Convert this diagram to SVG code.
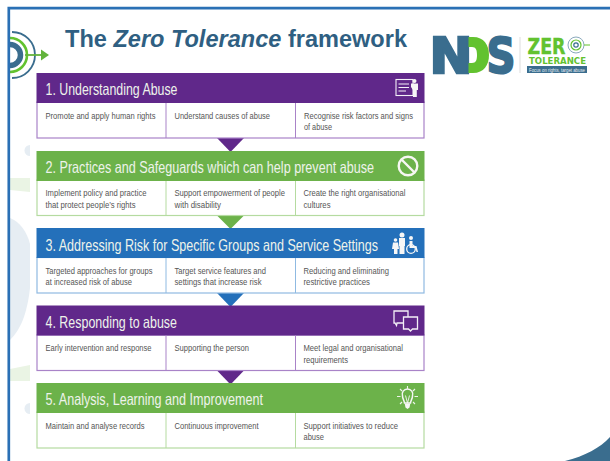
<svg xmlns="http://www.w3.org/2000/svg" width="610" height="461" viewBox="0 0 610 461">
<style>
text{font-family:"Liberation Sans",Arial,sans-serif}
.h{font-size:16.500px;fill:#eef3ea}
.t{font-size:9.300px;fill:#555}
.p{fill:#60288a}.g{fill:#6cb24a}.b{fill:#2470ba}
.lp{fill:#fff;stroke:#a983c8;stroke-width:1.2}
.lg{fill:#fff;stroke:#b5dba0;stroke-width:1.2}
.lb{fill:#fff;stroke:#8fbae2;stroke-width:1.2}
.dp{stroke:#a983c8;stroke-width:1}.dg{stroke:#b5dba0;stroke-width:1}.db{stroke:#8fbae2;stroke-width:1}
.ic{fill:none;stroke:#f3f0f7;stroke-width:1.1}
.w{fill:#f6f6f6}
.lg1{font-family:"DejaVu Sans",sans-serif;font-weight:700}
</style>
<rect width="610" height="461" fill="#fff"/>
<g id="background">
<path d="M10 218C20 222 27 232 30 244V288C27 315 20 330 10 340Z" fill="#e6edf3"/>
<path d="M10 178H30V192L10 190Z" fill="#eaf4e4"/>
<path d="M10 369L30 365V381H10Z" fill="#eaf4e4"/>
<path d="M30 145A5.500 5.500 0 0 0 30 156Z" fill="#e6edf3"/>
<path d="M30 403A5.500 5.500 0 0 0 30 414Z" fill="#e6edf3"/>
<path d="M565 461C585 456 600 448 610 437V461Z" fill="#3a6d8e"/>
</g>
<g id="ring-icon" fill="none">
<path d="M12 32A23 23 0 0 1 12 78" stroke="#3a6d8e" stroke-width="1.800"/>
<path d="M10 38A17 17 0 0 1 10 72" stroke="#62c22f" stroke-width="2.600"/>
<path d="M10 44.500A10.500 10.500 0 0 1 10 65.500" stroke="#3a6d8e" stroke-width="5.500"/>
<path d="M25 55H42" stroke="#62b33c" stroke-width="1.800"/>
<path d="M41 49.500L49 55L41 60.500Z" fill="#62b33c"/>
</g>
<g id="frame" fill="none" stroke="#2a70b5">
<path d="M610 8.200H8.800V461" stroke-width="2.700"/>
</g>
<text id="title" x="65" y="46.500" font-size="23.500" font-weight="700" fill="#2f5f82" textLength="342" lengthAdjust="spacingAndGlyphs">The <tspan font-style="italic">Zero Tolerance</tspan> framework</text>
<g id="logo">
<text class="lg1" x="429.500" y="72.500" font-size="49" fill="#3a6d8e" stroke="#3a6d8e" stroke-width="2.500" textLength="43" lengthAdjust="spacingAndGlyphs">N</text>
<text class="lg1" x="486.500" y="72.500" font-size="49" fill="#3a6d8e" stroke="#3a6d8e" stroke-width="2" textLength="29" lengthAdjust="spacingAndGlyphs">S</text>
<path d="M468.500 37H473C484 37 489 45 489 55C489 65 484 73 473 73H468.500V63H472C476 63 477 60 477 55C477 50 476 47 472 47H468.500Z" fill="#62c22f"/>
<path d="M520 37V73" stroke="#ddd" stroke-width="1"/>
<text class="lg1" x="527.500" y="53.500" font-size="22" fill="#62c22f" stroke="#62c22f" stroke-width=".4" textLength="38" lengthAdjust="spacingAndGlyphs">ZER</text>
<g fill="none">
<circle cx="576" cy="45" r="8" stroke="#8aa9bc" stroke-width="1"/>
<circle cx="576" cy="45" r="5" stroke="#62c22f" stroke-width="1.200"/>
<circle cx="576" cy="45" r="2.200" stroke="#3a6d8e" stroke-width="1.200"/>
<path d="M584 45H590" stroke="#62c22f"/>
</g>
<text class="lg1" x="529" y="63.500" font-size="8.500" fill="#62c22f" textLength="57" lengthAdjust="spacingAndGlyphs">TOLERANCE</text>
<rect x="527" y="66" width="60" height="7" fill="#3a6d8e"/>
<text x="529" y="71.500" font-size="5" fill="#e8eef2" textLength="56" lengthAdjust="spacingAndGlyphs">Focus on rights, target abuse</text>
</g>
<g id="connectors">
<path class="p" d="M217 138H244L230.500 152Z"/>
<path class="g" d="M217 215.500H244L230.500 229Z"/>
<path class="b" d="M217 293H244L230.500 307Z"/>
<path class="p" d="M217 370.500H244L230.500 384.500Z"/>
</g>
<g id="node-1">
<rect class="lp" x="37" y="102" width="387" height="36"/>
<rect class="p" x="36.500" y="73" width="388" height="30"/>
<path class="dp" d="M166 103V138M295.500 103V138"/>
<text class="h" x="45.500" y="94.500" textLength="132" lengthAdjust="spacingAndGlyphs">1. Understanding Abuse</text>
<text class="t" x="45.500" y="118.500" textLength="110" lengthAdjust="spacingAndGlyphs">Promote and apply human rights</text>
<text class="t" x="174.500" y="118.500" textLength="95.500" lengthAdjust="spacingAndGlyphs">Understand causes of abuse</text>
<text class="t" x="304" y="118.500" textLength="109" lengthAdjust="spacingAndGlyphs">Recognise risk factors and signs</text>
<text class="t" x="304" y="130" textLength="28" lengthAdjust="spacingAndGlyphs">of abuse</text>
<g>
<rect class="ic" x="396" y="79.500" width="17" height="16"/>
<path class="ic" d="M398.500 84H409M398.500 87.500H409M398.500 91H406"/>
<circle class="w" cx="414.500" cy="81" r="2"/>
<path class="w" d="M411 83.500H418V90H416.800V97H413V90L411 87Z"/>
</g>
</g>
<g id="node-2">
<rect class="lg" x="37" y="180" width="387" height="35.500"/>
<rect class="g" x="36.500" y="151" width="388" height="30"/>
<path class="dg" d="M166 181V215.500M295.500 181V215.500"/>
<text class="h" x="45.500" y="172.500" textLength="328.500" lengthAdjust="spacingAndGlyphs">2. Practices and Safeguards which can help prevent abuse</text>
<text class="t" x="45.500" y="196" textLength="101" lengthAdjust="spacingAndGlyphs">Implement policy and practice</text>
<text class="t" x="45.500" y="207.500" textLength="90" lengthAdjust="spacingAndGlyphs">that protect people’s rights</text>
<text class="t" x="174.500" y="196" textLength="110.500" lengthAdjust="spacingAndGlyphs">Support empowerment of people</text>
<text class="t" x="174.500" y="207.500" textLength="46.500" lengthAdjust="spacingAndGlyphs">with disability</text>
<text class="t" x="303.500" y="196" textLength="102" lengthAdjust="spacingAndGlyphs">Create the right organisational</text>
<text class="t" x="303.500" y="207.500" textLength="27" lengthAdjust="spacingAndGlyphs">cultures</text>
<g fill="none" stroke="#f7f7f3" stroke-width="2.400">
<circle cx="408" cy="166" r="9.300"/>
<path d="M401.500 159.500L414.500 172.500"/>
</g>
</g>
<g id="node-3">
<rect class="lb" x="37" y="257.500" width="387" height="35.500"/>
<rect class="b" x="36.500" y="228" width="388" height="30"/>
<path class="db" d="M166 258V293M295.500 258V293"/>
<text class="h" x="45.500" y="250.500" textLength="332.500" lengthAdjust="spacingAndGlyphs">3. Addressing Risk for Specific Groups and Service Settings</text>
<text class="t" x="45.500" y="273.500" textLength="107" lengthAdjust="spacingAndGlyphs">Targeted approaches for groups</text>
<text class="t" x="45.500" y="285" textLength="86.500" lengthAdjust="spacingAndGlyphs">at increased risk of abuse</text>
<text class="t" x="174.500" y="273.500" textLength="91.500" lengthAdjust="spacingAndGlyphs">Target service features and</text>
<text class="t" x="174.500" y="285" textLength="87" lengthAdjust="spacingAndGlyphs">settings that increase risk</text>
<text class="t" x="303.500" y="273.500" textLength="85.500" lengthAdjust="spacingAndGlyphs">Reducing and eliminating</text>
<text class="t" x="303.500" y="285" textLength="66.500" lengthAdjust="spacingAndGlyphs">restrictive practices</text>
<g>
<circle class="w" cx="395.500" cy="240" r="1.800"/>
<path class="w" d="M393 242.500H398L399 249H397.500V254H394V249H392Z"/>
<circle class="w" cx="402" cy="235" r="2.500"/>
<path class="w" d="M399 238H405V246H404.500V254H399.500V246H399Z"/>
<circle class="w" cx="411" cy="238" r="2"/>
<path class="w" d="M409.500 241H412.500V246H416.500L418 252H416.500L415.500 248H409.500Z"/>
<circle cx="411" cy="249" r="4.300" fill="none" stroke="#f6f6f6" stroke-width="1.300"/>
</g>
</g>
<g id="node-4">
<rect class="lp" x="37" y="335" width="387" height="35.500"/>
<rect class="p" x="36.500" y="305.500" width="388" height="30"/>
<path class="dp" d="M166 335.500V370.500M295.500 335.500V370.500"/>
<text class="h" x="45.500" y="327.500" textLength="131.500" lengthAdjust="spacingAndGlyphs">4. Responding to abuse</text>
<text class="t" x="45.500" y="351" textLength="106" lengthAdjust="spacingAndGlyphs">Early intervention and response</text>
<text class="t" x="174.500" y="351" textLength="74.500" lengthAdjust="spacingAndGlyphs">Supporting the person</text>
<text class="t" x="303.500" y="351" textLength="99.500" lengthAdjust="spacingAndGlyphs">Meet legal and organisational</text>
<text class="t" x="303.500" y="362.500" textLength="44.500" lengthAdjust="spacingAndGlyphs">requirements</text>
<g class="ic" style="stroke-width:1.300">
<path d="M403 323H397L396.500 325.500L395 323H394V311H408V317"/>
<path d="M403.500 317H417.500V329H412.500L410.500 331L408.500 329H403.500Z"/>
</g>
</g>
<g id="node-5">
<rect class="lg" x="37" y="412" width="387" height="36"/>
<rect class="g" x="36.500" y="383" width="388" height="30"/>
<path class="dg" d="M166 413V448M295.500 413V448"/>
<text class="h" x="45.500" y="405" textLength="217.500" lengthAdjust="spacingAndGlyphs">5. Analysis, Learning and Improvement</text>
<text class="t" x="45.500" y="428.500" textLength="99" lengthAdjust="spacingAndGlyphs">Maintain and analyse records</text>
<text class="t" x="174.500" y="428.500" textLength="84" lengthAdjust="spacingAndGlyphs">Continuous improvement</text>
<text class="t" x="303.500" y="428.500" textLength="94.500" lengthAdjust="spacingAndGlyphs">Support initiatives to reduce</text>
<text class="t" x="303.500" y="440" textLength="20.500" lengthAdjust="spacingAndGlyphs">abuse</text>
<g>
<path d="M402.500 396A5.300 5.300 0 1 1 412.500 396C412.500 399 410.800 400 410.500 403H404.500C404.200 400 402.500 399 402.500 396Z" fill="none" stroke="#f6f6f6" stroke-width="1.500"/>
<path class="w" d="M404.700 403.500H410.300L409.500 407.500L407.500 409L405.500 407.500Z"/>
<path d="M405.500 395.500L407.500 403L409.500 395.500" fill="none" stroke="#f6f6f6" stroke-width=".9"/>
<path d="M407.500 386V389M397 396.500H400.500M414.500 396.500H418M400 389L402 391M415 389L413 391M400 404L402 402M415 404L413 402" stroke="#eef3ea" stroke-width="1.100" fill="none"/>
</g>
</g>
</svg>
